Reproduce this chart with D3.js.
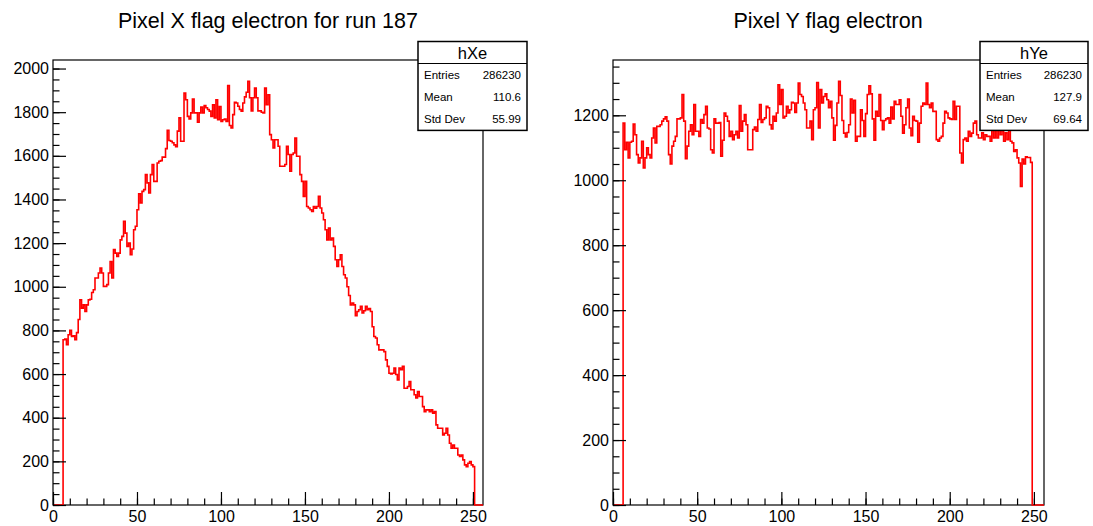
<!DOCTYPE html>
<html>
<head>
<meta charset="utf-8">
<script src="https://cdn.jsdelivr.net/npm/d3@7"></script>
<style>
  body { margin: 0; background: #fff; }
  svg { font-family: "Liberation Sans", Arial, Helvetica, sans-serif; }
</style>
</head>
<body>
<svg id="chart" width="1093" height="526"></svg>
<script>
// 256 pixel bins, only bins 6..250 are filled
var nBins = 256;
var firstBin = 6;

var xeCounts = [
  757, 760, 734, 780, 800, 772, 775, 757, 790, 850, 940, 902, 917, 887, 917, 940, 943, 974, 986,
  1040, 1040, 1063, 1086, 1063, 1002, 1002, 1010, 1063, 1116, 1040, 1170, 1154, 1139, 1154, 1215,
  1231, 1300, 1246, 1185, 1200, 1147, 1173, 1261, 1277, 1353, 1426, 1384, 1437, 1445, 1514, 1476,
  1430, 1514, 1560, 1483, 1483, 1567, 1575, 1578, 1594, 1594, 1633, 1717, 1670,
  1667, 1660, 1650, 1642, 1713, 1774, 1667, 1667, 1888, 1857, 1781, 1769, 1797, 1860, 1797, 1797,
  1754, 1797, 1823, 1797, 1830, 1820, 1812, 1805, 1781, 1834, 1774, 1857, 1765, 1826, 1758, 1765,
  1769, 1758, 1922, 1739, 1728, 1789, 1845, 1842, 1827, 1812, 1805, 1842, 1870, 1891, 1942, 1866,
  1806, 1866, 1911, 1866, 1806, 1806, 1800, 1797, 1911, 1834, 1880,
  1697, 1674, 1636, 1674, 1674, 1644, 1552, 1552, 1552, 1560, 1644, 1606, 1529, 1606, 1613, 1682,
  1598, 1598, 1514, 1483, 1414, 1483, 1368, 1361, 1353, 1345, 1368, 1360, 1368, 1414, 1361, 1338,
  1307, 1261, 1215, 1269, 1215, 1223, 1185, 1124, 1093, 1124, 1147, 1093, 1055, 1040,
  1000, 960, 917, 925, 917, 867, 887, 895, 910, 880, 890, 910, 895, 900, 887, 817, 772, 765, 734,
  711, 711, 711, 703, 665, 635, 604, 600, 604, 627, 598, 573, 627, 620, 635, 535, 535, 543, 566,
  528, 528, 505, 490, 520, 497, 497, 451, 428, 436, 436, 428, 436, 421, 428, 367, 352, 352, 352,
  321, 329, 352, 321, 283, 260, 275, 260, 260, 229, 222, 229, 207, 184, 176, 191, 199, 184, 176
];

var yeCounts = [
  1176, 1094, 1117, 1069, 1117, 1120, 1173, 1140, 1079, 1053, 1069, 1120, 1038, 1069, 1100, 1079,
  1069, 1130, 1161, 1115, 1166, 1166, 1171, 1182, 1189, 1195, 1182, 1079, 1050, 1105, 1120, 1135,
  1189, 1189, 1192, 1264, 1182, 1066, 1105, 1151, 1171, 1140, 1233, 1151, 1151, 1135, 1187, 1176,
  1202, 1228, 1161, 1158, 1094, 1084, 1189, 1176, 1176,
  1178, 1074, 1123, 1207, 1197, 1182, 1135, 1151, 1125, 1140, 1151, 1130, 1230, 1151, 1182, 1202,
  1171, 1094, 1094, 1094, 1156, 1164, 1151, 1187, 1233, 1178, 1187, 1192, 1228, 1223, 1171, 1158,
  1197, 1182, 1207, 1294, 1233, 1279, 1192, 1197, 1228, 1207, 1217, 1240, 1238, 1209, 1238, 1299,
  1264, 1258, 1238, 1217, 1161, 1161, 1182, 1125, 1217, 1223, 1301, 1161, 1279, 1238, 1258,
  1266, 1248, 1223, 1243, 1192, 1123, 1169, 1238, 1305, 1261, 1184, 1145, 1133, 1147, 1171, 1250,
  1207, 1246, 1120, 1135, 1135, 1217, 1184, 1135, 1205, 1264, 1291, 1266, 1189, 1123, 1212, 1197,
  1264, 1184, 1156, 1184, 1189, 1192, 1176, 1225, 1189, 1243, 1233, 1233, 1248, 1197, 1145, 1171,
  1223, 1250, 1161, 1137, 1197, 1184, 1182, 1117, 1176, 1228,
  1238, 1233, 1299, 1233, 1223, 1238, 1212, 1212, 1125, 1120, 1130, 1135, 1176, 1212, 1207, 1192,
  1189, 1187, 1243, 1187, 1228, 1228, 1084, 1053, 1125, 1130, 1120, 1151, 1135, 1145, 1176, 1182,
  1140, 1130,
  1130, 1146, 1125, 1140, 1135, 1135, 1120, 1190, 1130, 1200, 1130, 1185, 1140, 1210, 1120, 1146,
  1125, 1175, 1120, 1115, 1089, 1094, 1069, 1053, 981, 1065, 1050, 1072, 1070, 1070, 1055
];

var xTicks = [0, 50, 100, 150, 200, 250];
var xMinor = d3.range(0, 257, 10);
var xeYTicks = d3.range(0, 2001, 200);
var yeYTicks = d3.range(0, 1201, 200);
var statLabels = ["Entries", "Mean", "Std Dev"];
var xeStats = ["286230", "110.6", "55.99"];
var yeStats = ["286230", "127.9", "69.64"];

var panels = [
  {
    title: "Pixel X flag electron for run 187", name: "hXe",
    counts: xeCounts, yTicks: xeYTicks, stats: xeStats,
    left: 53, right: 483, titleX: 268, boxX: 418, boxW: 109
  },
  {
    title: "Pixel Y flag electron", name: "hYe",
    counts: yeCounts, yTicks: yeYTicks, stats: yeStats,
    left: 613, right: 1044, titleX: 828, boxX: 980, boxW: 108
  }
];

var frameTop = 60, frameBottom = 505;
var boxTop = 41.5, headerH = 22, rowH = 22.3;

var svg = d3.select("#chart");

function fullBins(counts) {
  var bins = d3.range(nBins).map(function () { return 0; });
  counts.forEach(function (c, i) { bins[firstBin + i] = c; });
  return bins;
}

panels.forEach(function (p) {
  var g = svg.append("g").attr("class", "panel");
  var bins = fullBins(p.counts);
  var yMax = d3.max(bins) * 1.05;

  var x = d3.scaleLinear().domain([0, nBins]).range([p.left, p.right]);
  var y = d3.scaleLinear().domain([0, yMax]).range([frameBottom, frameTop]);

  // frame
  g.append("rect")
    .attr("x", p.left).attr("y", frameTop)
    .attr("width", p.right - p.left).attr("height", frameBottom - frameTop)
    .attr("fill", "none").attr("stroke", "#000").attr("stroke-width", 1.2);

  // histogram as steps
  var pts = bins.map(function (c, i) { return [i, c]; });
  pts.push([nBins, 0]);
  var line = d3.line()
    .x(function (d) { return x(d[0]); })
    .y(function (d) { return y(d[1]); })
    .curve(d3.curveStepAfter);
  g.append("path")
    .attr("d", line(pts))
    .attr("fill", "none")
    .attr("stroke", "#ff0000")
    .attr("stroke-width", 1.6);

  // axes (ticks pointing inwards like ROOT)
  var yMinorVals = d3.range(0, yMax, 50);
  g.append("g")
    .attr("transform", "translate(" + p.left + ",0)")
    .call(d3.axisLeft(y).tickValues(yMinorVals).tickSizeInner(-6.5).tickSizeOuter(0).tickFormat(""))
    .call(function (a) { a.select(".domain").remove(); });
  g.append("g")
    .attr("transform", "translate(" + p.left + ",0)")
    .call(d3.axisLeft(y).tickValues(p.yTicks).tickSizeInner(-13).tickSizeOuter(0).tickPadding(4).tickFormat(d3.format("d")))
    .call(function (a) { a.select(".domain").remove(); });

  g.append("g")
    .attr("transform", "translate(0," + frameBottom + ")")
    .call(d3.axisBottom(x).tickValues(xMinor).tickSizeInner(-6.5).tickSizeOuter(0).tickFormat(""))
    .call(function (a) { a.select(".domain").remove(); });
  g.append("g")
    .attr("transform", "translate(0," + frameBottom + ")")
    .call(d3.axisBottom(x).tickValues(xTicks).tickSizeInner(-13).tickSizeOuter(0).tickPadding(6).tickFormat(d3.format("d")))
    .call(function (a) { a.select(".domain").remove(); });

  g.selectAll(".tick line").attr("stroke", "#000").attr("stroke-width", 1.2);
  g.selectAll(".tick text").attr("fill", "#000").style("font-size", "16px")
    .style("font-family", "'Liberation Sans', Arial, sans-serif");

  // title
  svg.append("text")
    .attr("x", p.titleX).attr("y", 28)
    .attr("text-anchor", "middle")
    .style("font-size", "21.5px")
    .text(p.title);

  // stats box
  var boxH = headerH + rowH * statLabels.length;
  var box = svg.append("g");
  box.append("rect")
    .attr("x", p.boxX).attr("y", boxTop)
    .attr("width", p.boxW).attr("height", boxH)
    .attr("fill", "#fff").attr("stroke", "#000").attr("stroke-width", 1.5);
  box.append("line")
    .attr("x1", p.boxX).attr("x2", p.boxX + p.boxW)
    .attr("y1", boxTop + headerH).attr("y2", boxTop + headerH)
    .attr("stroke", "#000").attr("stroke-width", 1.2);
  box.append("text")
    .attr("x", p.boxX + p.boxW / 2).attr("y", boxTop + 17)
    .attr("text-anchor", "middle")
    .style("font-size", "16.5px")
    .text(p.name);
  statLabels.forEach(function (lab, i) {
    var by = boxTop + headerH + rowH * i + 15;
    box.append("text")
      .attr("x", p.boxX + 6).attr("y", by)
      .style("font-size", "11.5px")
      .text(lab);
    box.append("text")
      .attr("x", p.boxX + p.boxW - 6).attr("y", by)
      .attr("text-anchor", "end")
      .style("font-size", "11.5px")
      .text(p.stats[i]);
  });
});
</script>
</body>
</html>
